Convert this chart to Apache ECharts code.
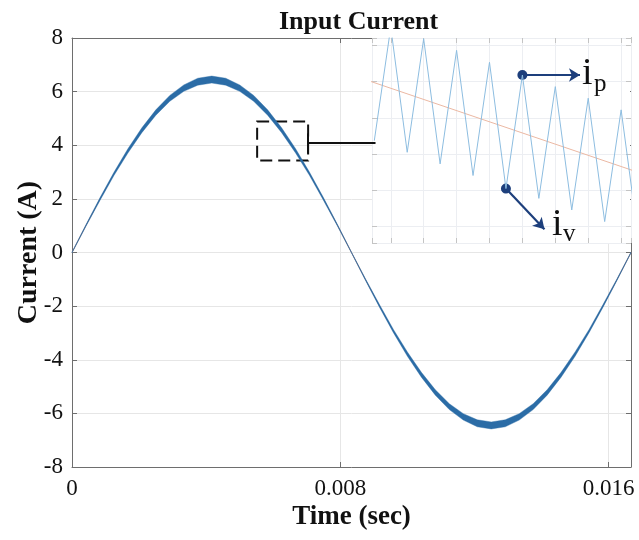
<!DOCTYPE html>
<html>
<head>
<meta charset="utf-8">
<script src="https://cdn.jsdelivr.net/npm/echarts@6/dist/echarts.min.js"></script>
<style>
  html, body { margin: 0; padding: 0; background: #ffffff; }
  #chart { width: 639px; height: 540px; }
</style>
</head>
<body>
<div id="chart"></div>
<script>
// One line cycle of the input current (s, A)
const timeSec = [0, 0.000417, 0.000833, 0.00125, 0.001667, 0.002083, 0.0025, 0.002917, 0.003333, 0.00375,
  0.004167, 0.004583, 0.005, 0.005417, 0.005833, 0.00625, 0.006667, 0.007083, 0.0075, 0.007917,
  0.008333, 0.00875, 0.009167, 0.009583, 0.01, 0.010417, 0.010833, 0.01125, 0.011667, 0.012083,
  0.0125, 0.012917, 0.013333, 0.01375, 0.014167, 0.014583, 0.015, 0.015417, 0.015833, 0.01625, 0.016667];
const currentA = [0, 1.01, 1.99, 2.93, 3.79, 4.56, 5.22, 5.75, 6.13, 6.37,
  6.45, 6.37, 6.13, 5.75, 5.22, 4.56, 3.79, 2.93, 1.99, 1.01,
  0, -1.01, -1.99, -2.93, -3.79, -4.56, -5.22, -5.75, -6.13, -6.37,
  -6.45, -6.37, -6.13, -5.75, -5.22, -4.56, -3.79, -2.93, -1.99, -1.01, 0];
// Half of the switching ripple band around the average current (A)
const rippleHalfA = [0.015, 0.03, 0.05, 0.06, 0.08, 0.09, 0.10, 0.11, 0.12, 0.13,
  0.13, 0.13, 0.12, 0.11, 0.10, 0.09, 0.08, 0.06, 0.05, 0.03,
  0.015, 0.03, 0.05, 0.06, 0.08, 0.09, 0.10, 0.11, 0.12, 0.13,
  0.13, 0.13, 0.12, 0.11, 0.10, 0.09, 0.08, 0.06, 0.05, 0.03, 0.015];

// Zoomed view: switching ripple (peaks and valleys) and its average, in grid units
const rippleU = [-0.5, 0, 0.5, 1, 1.5, 2, 2.5, 3, 3.5, 4, 4.5, 5, 5.5, 6, 6.5, 7, 7.5];
const rippleV = [2.37, 5.50, 2.05, 5.18, 1.73, 4.86, 1.41, 4.53, 1.05, 4.18, 0.78, 3.86, 0.46, 3.54, 0.14, 3.22, -0.18];
const avgU = [-0.6, 7.35];
const avgV = [4.0, 1.55];
const peakIdx = 9;    // marked peak  (i_p)
const valleyIdx = 8;  // marked valley (i_v)

const xTickLabels = [0, 0.008, 0.016];
const yTickLabels = [-8, -6, -4, -2, 0, 2, 4, 6, 8];

// Region of the main curve shown enlarged
const zoomBox = { t0: 0.00552, t1: 0.00704, iLow: 3.43, iHigh: 4.89 };
const pointerI = 4.10, pointerEndT = 0.00905, barLow = 3.69, barHigh = 4.44;

const FONT = 'Liberation Serif';
const BLUE = '#2b6ca6';
const ORANGE = '#d98a6c';
const NAVY = '#1d3f7c';
const chevron = 'path://M0,14 L8,0 L16,14 L13.6,14 L8,4.2 L2.4,14 Z';

const pairs = (xs, ys) => xs.map((x, k) => [x, ys[k]]);
const bandRows = timeSec.map((t, k) => [t, currentA[k] + rippleHalfA[k], currentA[k] - rippleHalfA[k]]);

const mainBox = { left: 72, right: 8, top: 38, bottom: 73 };
const insetBox = { left: 372, right: 8, top: 38, bottom: 297 };

const chart = echarts.init(document.getElementById('chart'), null, { renderer: 'canvas' });

const boxLine = { show: true, onZero: false, lineStyle: { color: '#6e6e6e', width: 1 } };
const noLine = { show: false, onZero: false };
const mainTicks = { show: true, inside: true, length: 5, lineStyle: { color: '#6e6e6e' } };
const insetTicks = { show: true, inside: true, length: 5, lineStyle: { color: '#c4c4c4' } };
const mainGrid = { show: true, lineStyle: { color: '#e6e6e6', width: 1 } };
const insetGrid = { show: true, lineStyle: { color: '#eceef2', width: 1 } };

// Ripple envelope drawn as one filled band between the upper and lower edges
function renderBand(params, api) {
  if (params.dataIndex !== 0) return null;
  const upper = [], lower = [];
  for (let k = 0; k < bandRows.length; k++) {
    upper.push(api.coord([bandRows[k][0], bandRows[k][1]]));
    lower.push(api.coord([bandRows[k][0], bandRows[k][2]]));
  }
  return {
    type: 'polygon',
    shape: { points: upper.concat(lower.reverse()) },
    style: { fill: BLUE, stroke: BLUE, lineWidth: 0.4 }
  };
}

chart.setOption({
  animation: false,
  backgroundColor: '#ffffff',
  title: {
    text: 'Input Current',
    left: 274, top: 4,
    textStyle: { fontFamily: FONT, fontSize: 26, fontWeight: 'bold', color: '#111' }
  },
  grid: [
    Object.assign({ containLabel: false }, mainBox),
    Object.assign({ containLabel: false }, insetBox)
  ],
  xAxis: [
    {
      gridIndex: 0, type: 'value', min: 0, max: 0.016667, interval: 0.008,
      axisLine: boxLine, axisTick: mainTicks, splitLine: mainGrid,
      name: 'Time (sec)', nameLocation: 'middle', nameGap: 37, nameMoveOverlap: false,
      nameTextStyle: { fontFamily: FONT, fontSize: 27, fontWeight: 'bold', color: '#111' },
      axisLabel: {
        fontFamily: FONT, fontSize: 23, color: '#111', margin: 10, showMaxLabel: true,
        formatter: v => {
          const hit = xTickLabels.find(x => Math.abs(x - v) < 1e-7);
          return hit === undefined ? '' : String(hit);
        }
      }
    },
    {
      gridIndex: 0, type: 'value', position: 'top', min: 0, max: 0.016667, interval: 0.008,
      axisLine: boxLine, axisTick: mainTicks, splitLine: { show: false }, axisLabel: { show: false }
    },
    {
      gridIndex: 1, type: 'value', min: -0.57, max: 7.3, minInterval: 1, maxInterval: 1, z: 2,
      axisLine: noLine, axisTick: insetTicks, splitLine: insetGrid, axisLabel: { show: false }
    },
    {
      gridIndex: 1, type: 'value', position: 'top', min: -0.57, max: 7.3, minInterval: 1, maxInterval: 1, z: 2,
      axisLine: noLine, axisTick: insetTicks, splitLine: { show: false }, axisLabel: { show: false }
    }
  ],
  yAxis: [
    {
      gridIndex: 0, type: 'value', min: -8, max: 8, interval: 2,
      axisLine: boxLine, axisTick: mainTicks, splitLine: mainGrid,
      name: 'Current (A)', nameLocation: 'middle', nameGap: 29, nameMoveOverlap: false,
      nameTextStyle: { fontFamily: FONT, fontSize: 28, fontWeight: 'bold', color: '#111' },
      axisLabel: {
        fontFamily: FONT, fontSize: 23, color: '#111', margin: 9,
        formatter: v => (yTickLabels.indexOf(v) >= 0 ? String(v) : '')
      }
    },
    {
      gridIndex: 0, type: 'value', position: 'right', min: -8, max: 8, interval: 2,
      axisLine: boxLine, axisTick: mainTicks, splitLine: { show: false }, axisLabel: { show: false }
    },
    {
      gridIndex: 1, type: 'value', min: -0.45, max: 5.2, minInterval: 1, maxInterval: 1, z: 2,
      axisLine: noLine, axisTick: insetTicks, splitLine: insetGrid, axisLabel: { show: false }
    },
    {
      gridIndex: 1, type: 'value', position: 'right', min: -0.45, max: 5.2, minInterval: 1, maxInterval: 1, z: 2,
      axisLine: noLine, axisTick: insetTicks, splitLine: { show: false }, axisLabel: { show: false }
    }
  ],
  graphic: [
    {
      type: 'rect', z: 1, silent: true,
      shape: { x: 372, y: 39, width: 258, height: 204 },
      style: { fill: '#ffffff' }
    },
    {
      type: 'text', z: 10, left: 582, top: 55,
      style: { text: 'i', fontFamily: FONT, fontSize: 38, fill: '#111' }
    },
    {
      type: 'text', z: 10, left: 594, top: 72,
      style: { text: 'p', fontFamily: FONT, fontSize: 25, fill: '#111' }
    },
    {
      type: 'text', z: 10, left: 552, top: 206,
      style: { text: 'i', fontFamily: FONT, fontSize: 38, fill: '#111' }
    },
    {
      type: 'text', z: 10, left: 563, top: 222,
      style: { text: 'v', fontFamily: FONT, fontSize: 25, fill: '#111' }
    }
  ],
  series: [
    {
      name: 'average', type: 'line', xAxisIndex: 0, yAxisIndex: 0, z: 4,
      data: pairs(timeSec, currentA), showSymbol: false, symbol: 'none',
      lineStyle: { color: ORANGE, width: 1 },
      markArea: {
        silent: true,
        itemStyle: { color: 'rgba(0,0,0,0)', borderColor: '#111', borderWidth: 2, borderType: [12, 6] },
        data: [[{ coord: [zoomBox.t0, zoomBox.iHigh] }, { coord: [zoomBox.t1, zoomBox.iLow] }]]
      },
      markLine: {
        silent: true, animation: false, precision: 6,
        symbol: ['none', chevron], symbolSize: [1, [13, 12]],
        label: { show: false },
        lineStyle: { color: '#111', width: 2, type: 'solid' },
        data: [
          [{ coord: [zoomBox.t1, pointerI] }, { coord: [pointerEndT, pointerI] }],
          [{ coord: [zoomBox.t1, barLow], symbol: 'none' }, { coord: [zoomBox.t1, barHigh], symbol: 'none' }]
        ]
      }
    },
    {
      name: 'ripple', type: 'custom', xAxisIndex: 0, yAxisIndex: 0, z: 5,
      data: bandRows, encode: { x: 0, y: [1, 2] },
      renderItem: renderBand, silent: true
    },
    {
      name: 'avgZoom', type: 'line', xAxisIndex: 2, yAxisIndex: 2, z: 5,
      data: pairs(avgU, avgV), showSymbol: false, symbol: 'none',
      lineStyle: { color: '#ebb8a3', width: 1 }
    },
    {
      name: 'rippleZoom', type: 'line', xAxisIndex: 2, yAxisIndex: 2, z: 5,
      data: pairs(rippleU, rippleV), showSymbol: false, symbol: 'none',
      lineStyle: { color: '#8dbde0', width: 1 },
      markLine: {
        silent: true, animation: false, precision: 4,
        symbol: ['circle', 'arrow'], symbolSize: [10, 11],
        label: { show: false },
        lineStyle: { color: NAVY, width: 2.2, type: 'solid' },
        itemStyle: { color: NAVY },
        data: [
          [{ coord: [rippleU[peakIdx], rippleV[peakIdx]] }, { coord: [rippleU[peakIdx] + 1.75, rippleV[peakIdx]] }],
          [{ coord: [rippleU[valleyIdx], rippleV[valleyIdx]] }, { coord: [rippleU[valleyIdx] + 1.17, rippleV[valleyIdx] - 1.12] }]
        ]
      }
    }
  ]
});
</script>
</body>
</html>
